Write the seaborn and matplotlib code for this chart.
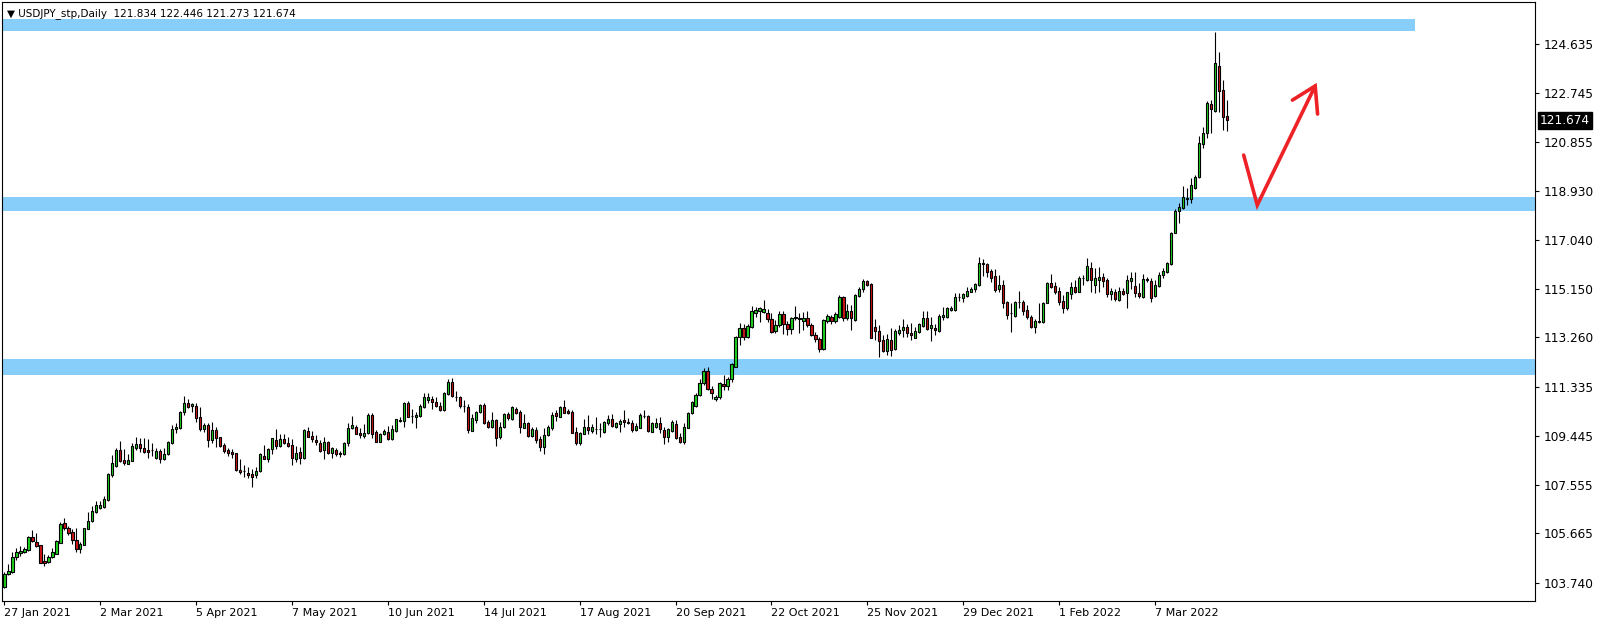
import matplotlib
matplotlib.use("Agg")
import matplotlib.pyplot as plt
import matplotlib.transforms as mtransforms
import numpy as np
import pandas as pd
import seaborn as sns

# daily USDJPY candles, one entry per bar (27 Jan 2021 .. 31 Mar 2022)
opens = [103.60, 104.08, 104.18, 104.76, 104.92, 104.94, 105.02, 105.53, 105.33, 105.21,
         104.59, 104.57, 104.74, 104.88, 105.31, 106.06, 105.89, 105.73, 105.41, 105.05,
         105.22, 105.85, 106.14, 106.50, 106.65, 106.68, 106.96, 107.93, 108.28, 108.90,
         108.51, 108.37, 108.48, 108.99, 109.13, 108.96, 108.90, 108.88, 108.59, 108.86,
         108.56, 108.73, 109.16, 109.72, 109.76, 110.36, 110.71, 110.59, 110.60, 110.17,
         109.73, 109.87, 109.27, 109.66, 109.39, 109.09, 108.90, 108.81, 108.77, 108.13,
         108.07, 107.99, 107.96, 107.92, 108.07, 108.65, 108.56, 108.92, 109.27, 109.04,
         109.31, 109.16, 109.09, 108.54, 108.81, 108.60, 109.64, 109.44, 109.29, 109.16,
         108.90, 109.20, 108.77, 108.89, 108.77, 108.73, 109.16, 109.74, 109.78, 109.55,
         109.45, 109.54, 110.26, 109.58, 109.22, 109.52, 109.58, 109.31, 109.62, 110.04,
         110.01, 110.71, 110.22, 110.16, 110.23, 110.58, 110.84, 110.87, 110.75, 110.62,
         110.45, 111.07, 111.52, 110.94, 110.94, 110.62, 110.58, 109.65, 110.06, 110.36,
         110.64, 109.97, 109.80, 110.06, 109.39, 109.78, 110.29, 110.10, 110.47, 110.38,
         109.76, 109.96, 109.44, 109.66, 109.31, 109.03, 109.48, 109.74, 110.35, 110.19,
         110.57, 110.41, 110.36, 109.58, 109.16, 109.53, 109.78, 109.65, 109.71, 109.71,
         109.58, 109.95, 110.09, 109.80, 109.91, 110.06, 110.00, 109.96, 109.67, 109.76,
         110.23, 110.22, 109.61, 109.80, 109.93, 109.67, 109.39, 109.65, 109.89, 109.39,
         109.22, 109.76, 110.32, 110.60, 111.02, 111.48, 111.96, 111.26, 110.86, 110.94,
         111.45, 111.39, 111.64, 112.13, 113.26, 113.61, 113.26, 113.68, 114.22, 114.30,
         114.26, 114.22, 113.98, 113.52, 113.74, 114.16, 113.78, 113.58, 114.01, 114.02,
         113.91, 114.00, 113.74, 113.36, 113.20, 112.81, 113.91, 114.07, 113.91, 114.04,
         114.84, 114.03, 114.29, 113.94, 114.88, 115.13, 115.44, 115.33, 113.65, 113.51,
         113.16, 112.75, 113.16, 112.80, 113.45, 113.55, 113.65, 113.45, 113.25, 113.48,
         113.71, 114.00, 113.64, 113.64, 113.53, 114.07, 114.04, 114.33, 114.33, 114.84,
         114.80, 114.88, 115.04, 115.12, 115.29, 116.13, 116.11, 115.84, 115.64, 115.14,
         115.29, 114.64, 114.20, 114.10, 114.64, 114.64, 114.33, 114.07, 113.65, 113.91,
         113.85, 114.61, 115.36, 115.27, 115.06, 114.67, 114.39, 114.94, 115.23, 115.04,
         115.55, 115.49, 115.94, 115.29, 115.49, 115.62, 115.49, 114.93, 115.04, 114.71,
         115.06, 114.97, 115.46, 115.25, 114.97, 114.84, 115.49, 115.46, 114.87, 115.27,
         115.68, 115.80, 116.09, 117.32, 118.17, 118.26, 118.61, 118.61, 119.04, 119.47,
         120.76, 121.17, 122.31, 122.05, 123.78, 122.85, 121.834]
highs = [104.16, 104.48, 104.93, 105.09, 105.17, 105.15, 105.58, 105.80, 105.67, 105.23,
         104.87, 104.84, 105.09, 105.41, 106.09, 106.25, 105.95, 105.85, 105.87, 105.34,
         105.89, 106.48, 106.72, 106.94, 106.92, 107.10, 108.00, 108.70, 108.96, 109.25,
         108.94, 108.73, 109.18, 109.40, 109.35, 109.37, 109.31, 109.16, 108.99, 108.94,
         108.96, 109.25, 109.87, 109.93, 110.41, 110.99, 110.88, 110.73, 110.71, 110.55,
         109.96, 109.93, 109.98, 109.79, 109.39, 109.16, 108.96, 108.94, 108.79, 108.55,
         108.30, 108.25, 108.15, 108.23, 108.77, 109.08, 108.96, 109.38, 109.71, 109.52,
         109.52, 109.39, 109.33, 109.07, 109.00, 109.70, 109.79, 109.64, 109.48, 109.29,
         109.39, 109.25, 109.00, 108.96, 108.85, 109.21, 109.96, 110.22, 109.85, 109.74,
         109.89, 110.35, 110.35, 109.67, 109.55, 109.70, 109.83, 109.85, 110.11, 110.19,
         110.76, 110.81, 110.49, 110.36, 110.67, 111.10, 111.10, 110.99, 110.97, 110.77,
         111.13, 111.65, 111.69, 111.20, 110.99, 110.82, 110.67, 110.29, 110.42, 110.68,
         110.73, 110.06, 110.36, 110.09, 109.99, 110.35, 110.38, 110.60, 110.58, 110.45,
         110.29, 109.99, 109.80, 109.80, 109.44, 109.74, 109.87, 110.36, 110.45, 110.60,
         110.84, 110.47, 110.45, 109.80, 109.61, 110.10, 110.26, 109.91, 110.19, 109.93,
         110.02, 110.26, 110.28, 109.99, 110.09, 110.45, 110.12, 110.06, 109.93, 110.32,
         110.45, 110.24, 109.99, 110.12, 110.19, 109.80, 109.74, 110.06, 110.06, 109.55,
         109.93, 110.36, 110.81, 111.09, 111.66, 112.06, 112.10, 111.39, 111.03, 111.55,
         111.80, 111.74, 112.26, 113.32, 113.83, 113.78, 113.78, 114.48, 114.43, 114.45,
         114.71, 114.35, 114.20, 113.94, 114.30, 114.29, 113.91, 114.07, 114.48, 114.20,
         114.26, 114.29, 113.83, 113.49, 113.29, 113.98, 114.17, 114.13, 114.26, 114.89,
         114.87, 114.54, 114.52, 114.95, 115.20, 115.54, 115.49, 115.36, 113.97, 113.74,
         113.36, 113.38, 113.62, 113.58, 113.74, 113.96, 113.78, 113.83, 113.68, 113.81,
         114.29, 114.29, 114.07, 113.78, 114.17, 114.43, 114.45, 114.48, 114.97, 114.97,
         115.00, 115.20, 115.20, 115.38, 116.37, 116.30, 116.16, 115.90, 115.90, 115.68,
         115.49, 114.69, 114.61, 114.67, 115.06, 114.71, 114.52, 114.13, 113.99, 114.58,
         114.65, 115.42, 115.72, 115.42, 115.23, 114.91, 115.04, 115.42, 115.49, 115.64,
         115.68, 116.33, 116.20, 115.94, 116.00, 115.75, 115.58, 115.17, 115.13, 115.23,
         115.19, 115.68, 115.78, 115.78, 115.36, 115.72, 115.62, 115.55, 115.49, 115.81,
         115.94, 116.20, 117.36, 118.23, 118.48, 119.13, 119.04, 119.43, 119.56, 121.07,
         121.40, 122.43, 122.46, 125.09, 124.31, 123.24, 122.446]
lows = [103.56, 104.05, 104.15, 104.63, 104.80, 104.89, 104.99, 105.35, 105.15, 104.50,
        104.42, 104.51, 104.70, 104.87, 105.28, 105.80, 105.60, 105.24, 104.96, 104.92,
        105.20, 105.82, 106.09, 106.44, 106.61, 106.65, 106.94, 107.84, 108.25, 108.45,
        108.33, 108.34, 108.46, 108.90, 108.83, 108.77, 108.60, 108.67, 108.56, 108.41,
        108.51, 108.70, 109.13, 109.57, 109.71, 110.27, 110.54, 110.38, 109.97, 109.65,
        109.60, 109.00, 109.16, 109.00, 109.00, 108.77, 108.67, 108.58, 108.10, 107.98,
        107.86, 107.80, 107.48, 107.80, 108.05, 108.54, 108.45, 108.73, 108.94, 109.00,
        109.13, 109.00, 108.33, 108.45, 108.34, 108.56, 109.39, 109.21, 109.09, 108.82,
        108.56, 108.73, 108.60, 108.68, 108.61, 108.70, 109.05, 109.71, 109.50, 109.35,
        109.38, 109.52, 109.38, 109.20, 109.20, 109.48, 109.29, 109.29, 109.60, 109.98,
        109.80, 110.16, 109.93, 109.74, 110.19, 110.51, 110.71, 110.47, 110.58, 110.41,
        110.42, 111.04, 110.94, 110.81, 110.51, 110.38, 109.54, 109.62, 109.93, 110.32,
        109.91, 109.76, 109.74, 109.05, 109.33, 109.74, 110.06, 110.06, 110.29, 109.57,
        109.74, 109.42, 109.39, 109.18, 108.87, 108.73, 109.44, 109.67, 110.04, 110.16,
        110.32, 110.29, 109.54, 109.09, 109.09, 109.51, 109.52, 109.57, 109.52, 109.42,
        109.54, 109.87, 109.78, 109.74, 109.58, 109.80, 109.91, 109.58, 109.65, 109.74,
        110.12, 109.61, 109.58, 109.74, 109.54, 109.12, 109.22, 109.61, 109.31, 109.18,
        109.12, 109.74, 110.28, 110.58, 110.99, 111.42, 111.22, 110.89, 110.81, 110.87,
        111.22, 111.22, 111.55, 112.10, 112.97, 113.16, 113.23, 113.61, 114.04, 113.87,
        114.22, 113.87, 113.42, 113.42, 113.68, 113.38, 113.36, 113.40, 113.94, 113.45,
        113.55, 113.68, 113.32, 113.10, 112.71, 112.78, 113.81, 113.78, 113.83, 114.00,
        113.90, 113.94, 113.55, 113.91, 114.82, 115.04, 115.26, 113.23, 113.16, 112.52,
        112.71, 112.58, 112.54, 112.78, 113.36, 113.27, 113.27, 113.16, 113.23, 113.45,
        113.68, 113.55, 113.14, 113.36, 113.49, 113.94, 114.00, 114.30, 114.30, 114.69,
        114.65, 114.84, 115.01, 115.04, 115.27, 115.64, 115.62, 115.42, 115.01, 115.04,
        114.39, 113.98, 113.49, 114.07, 114.39, 114.13, 113.96, 113.61, 113.45, 113.81,
        113.81, 114.58, 115.17, 114.95, 114.52, 114.20, 114.33, 114.74, 114.97, 115.01,
        115.29, 115.46, 115.01, 115.00, 115.04, 115.23, 114.84, 114.71, 114.67, 114.67,
        114.91, 114.41, 115.13, 114.84, 114.78, 114.80, 115.42, 114.65, 114.82, 115.23,
        115.55, 115.77, 116.07, 117.30, 117.71, 118.23, 118.39, 118.46, 119.00, 119.43,
        120.59, 120.98, 121.17, 122.01, 122.01, 121.30, 121.273]
closes = [104.09, 104.21, 104.75, 104.93, 104.99, 105.07, 105.54, 105.39, 105.19, 104.53,
          104.52, 104.75, 104.94, 105.37, 106.04, 105.86, 105.67, 105.42, 105.07, 105.24,
          105.89, 106.13, 106.53, 106.77, 106.77, 107.00, 107.97, 108.39, 108.90, 108.49,
          108.38, 108.51, 109.05, 109.13, 108.98, 108.83, 108.83, 108.88, 108.86, 108.56,
          108.74, 109.20, 109.70, 109.79, 110.36, 110.71, 110.58, 110.68, 110.15, 109.70,
          109.87, 109.27, 109.66, 109.38, 109.07, 108.87, 108.77, 108.76, 108.14, 108.05,
          108.08, 107.93, 107.86, 108.07, 108.73, 108.56, 108.92, 109.35, 109.05, 109.31,
          109.18, 109.07, 108.58, 108.77, 108.60, 109.66, 109.42, 109.34, 109.20, 108.87,
          109.21, 108.77, 108.96, 108.73, 108.73, 109.16, 109.74, 109.85, 109.53, 109.48,
          109.54, 110.26, 109.52, 109.22, 109.51, 109.64, 109.31, 109.70, 110.09, 110.06,
          110.71, 110.19, 110.20, 110.25, 110.62, 110.94, 110.97, 110.77, 110.62, 110.45,
          111.10, 111.52, 111.00, 110.94, 110.62, 110.61, 109.67, 110.13, 110.36, 110.64,
          109.93, 109.80, 110.06, 109.38, 109.80, 110.29, 110.13, 110.55, 110.35, 109.78,
          109.93, 109.44, 109.70, 109.29, 109.03, 109.47, 109.80, 110.26, 110.23, 110.57,
          110.35, 110.35, 109.57, 109.18, 109.54, 109.79, 109.67, 109.78, 109.72, 109.72,
          109.97, 110.10, 109.84, 109.93, 110.01, 110.00, 109.93, 109.67, 109.83, 110.26,
          110.23, 109.63, 109.93, 109.96, 109.70, 109.39, 109.70, 109.97, 109.38, 109.22,
          109.78, 110.32, 110.75, 111.03, 111.48, 111.96, 111.26, 111.10, 110.96, 111.48,
          111.39, 111.65, 112.23, 113.27, 113.61, 113.26, 113.70, 114.29, 114.32, 114.39,
          114.36, 113.96, 113.49, 113.74, 114.17, 113.78, 113.58, 114.00, 114.06, 113.96,
          114.00, 113.74, 113.36, 113.19, 112.81, 113.94, 114.09, 113.91, 114.17, 114.84,
          114.03, 114.29, 114.00, 114.91, 115.13, 115.46, 115.29, 113.25, 113.52, 113.14,
          112.75, 113.19, 112.78, 113.51, 113.55, 113.65, 113.45, 113.36, 113.51, 113.78,
          114.00, 113.59, 113.74, 113.55, 114.09, 114.13, 114.39, 114.42, 114.84, 114.84,
          114.94, 115.07, 115.14, 115.33, 116.13, 116.10, 115.81, 115.55, 115.10, 115.29,
          114.61, 114.13, 114.19, 114.64, 114.64, 114.30, 114.07, 113.68, 113.91, 113.86,
          114.61, 115.36, 115.23, 115.04, 114.65, 114.42, 115.01, 115.23, 115.04, 115.55,
          115.55, 116.03, 115.49, 115.55, 115.62, 115.46, 114.93, 115.06, 114.74, 115.06,
          114.93, 115.49, 115.55, 114.97, 114.88, 115.53, 115.53, 114.78, 115.29, 115.68,
          115.85, 116.13, 117.30, 118.17, 118.30, 118.69, 118.65, 119.17, 119.49, 120.78,
          121.17, 122.33, 122.10, 123.89, 122.83, 121.82, 121.674]

# date labels every 24 bars
date_labels = ["27 Jan 2021", "2 Mar 2021", "5 Apr 2021", "7 May 2021", "10 Jun 2021",
               "14 Jul 2021", "17 Aug 2021", "20 Sep 2021", "22 Oct 2021", "25 Nov 2021",
               "29 Dec 2021", "1 Feb 2022", "7 Mar 2022"]
price_ticks = [124.635, 122.745, 120.855, 118.930, 117.040, 115.150, 113.260,
               111.335, 109.445, 107.555, 105.665, 103.740]
last_price = 121.674

# support / resistance zones (low, high)
zone_top = (125.14, 125.60)
zone_mid = (118.18, 118.69)
zone_low = (111.79, 112.43)
zone_top_end = 353  # bar index where the top zone stops

# hand-drawn arrow (bar index, price)
arrow_x = [310.2, 313.6, 328.1]
arrow_y = [120.33, 118.39, 123.01]
head_x = [322.4, 328.1, 328.7]
head_y = [122.46, 123.01, 121.92]

df = pd.DataFrame({"open": opens, "high": highs, "low": lows, "close": closes})
df["bar"] = np.arange(len(df))
df["bull"] = df["close"] >= df["open"]

sns.set_theme(style="white")
plt.rcParams["font.family"] = ["DejaVu Sans"]

W, H = 1604, 625
fig = plt.figure(figsize=(W / 100, H / 100), dpi=100)
fig.patch.set_facecolor("white")
left, right, top, bottom = 2, 1535, 2, 601
ax = fig.add_axes([left / W, 1 - bottom / H, (right - left) / W, (bottom - top) / H])
ax.set_facecolor("white")

zone_color = "#87cefa"
ax.axhspan(*zone_mid, color=zone_color, lw=0, zorder=1)
ax.axhspan(*zone_low, color=zone_color, lw=0, zorder=1)
ax.fill_between([-5, zone_top_end], zone_top[0], zone_top[1], color=zone_color, lw=0, zorder=1)

# wicks then bodies
ax.vlines(df["bar"], df["low"], df["high"], color="black", lw=0.8, zorder=2)
body_lo = df[["open", "close"]].min(axis=1)
body_hi = df[["open", "close"]].max(axis=1)
colors = np.where(df["bull"], "#1fd41f", "#d11414")
ax.bar(df["bar"], body_hi - body_lo, bottom=body_lo, width=0.55, color=colors,
       edgecolor="black", linewidth=0.8, zorder=3)

ax.plot(arrow_x, arrow_y, color="#ee2226", lw=2.6, solid_joinstyle="miter", zorder=5)
ax.plot(head_x, head_y, color="#ee2226", lw=2.6, solid_joinstyle="miter", zorder=5)

y_top = 124.635 + 42 / 25.8
y_bot = 124.635 - 557 / 25.8
ax.set_ylim(y_bot, y_top)
ax.set_xlim(-2.5 / 4, (right - left - 0.5) / 4)

ax.yaxis.tick_right()
ax.set_yticks(price_ticks)
ax.set_yticklabels([f"{p:.3f}" for p in price_ticks])
ax.tick_params(axis="y", direction="out", length=3, width=0.8, pad=3, labelsize=8.7,
               colors="black", right=True, left=False)
ax.set_xticks(np.arange(len(date_labels)) * 24)
ax.set_xticklabels(date_labels, ha="left")
ax.tick_params(axis="x", direction="out", length=3, width=0.8, pad=2, labelsize=8,
               colors="black", bottom=True)
for lab in ax.get_xticklabels():
    lab.set_horizontalalignment("left")

for s in ax.spines.values():
    s.set_color("black")
    s.set_linewidth(0.8)

trans = mtransforms.blended_transform_factory(ax.transAxes, ax.transData)
ax.text(1.0 + 5 / (right - left), last_price, f"{last_price:.3f}", transform=trans,
        ha="left", va="center", color="white", fontsize=8.7, zorder=6,
        bbox=dict(boxstyle="square,pad=0.15", fc="black", ec="black"))

ax.text(5 / (right - left), 1 - 12 / (bottom - top),
        "\u25bc USDJPY_stp,Daily  121.834 122.446 121.273 121.674",
        transform=ax.transAxes, ha="left", va="center", fontsize=7.5, color="black", zorder=6)

ax.set_xlabel("")
ax.set_ylabel("")
fig.savefig("out.png", dpi=100, facecolor="white")
